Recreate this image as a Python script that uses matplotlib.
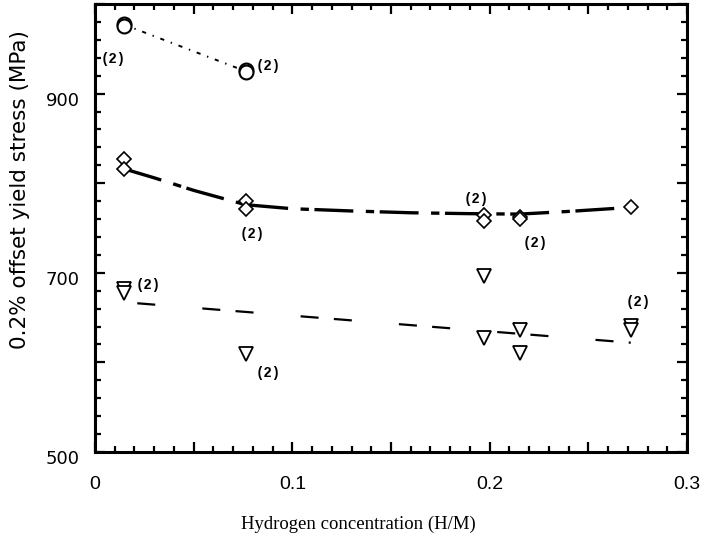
import matplotlib
matplotlib.use("Agg")
import matplotlib.pyplot as plt
from matplotlib.ticker import MultipleLocator, FuncFormatter
from matplotlib.transforms import ScaledTranslation

plt.rcParams['lines.scale_dashes'] = False

# ---- data ----
circle_x = [0.0147, 0.0147, 0.0763, 0.0763]
circle_y = [978, 976, 926, 924]
circle_fit_x = [0.0147, 0.0763]
circle_fit_y = [977, 925]

diamond_x = [0.0147, 0.0147, 0.0763, 0.0763, 0.197, 0.197, 0.2156, 0.2156, 0.2715]
diamond_y = [827, 816, 780, 771, 765, 758, 762, 760, 773]
diamond_fit_x = [0.0147, 0.03, 0.05, 0.0763, 0.10, 0.13, 0.16, 0.19, 0.215, 0.24, 0.2715]
diamond_fit_y = [816, 806, 792, 776, 771.5, 769, 767, 766, 765.5, 768.5, 773]

tri_x = [0.0147, 0.0147, 0.0763, 0.197, 0.197, 0.2156, 0.2156, 0.2715, 0.2715]
tri_y = [682, 677, 609, 696, 627, 636, 610, 641, 636]
tri_fit_x = [0.0214, 0.2715]
tri_fit_y = [666, 622]

note_text = "(2)"
note_x = [0.0092, 0.0880, 0.0798, 0.1932, 0.2232, 0.0269, 0.0880, 0.2755]
note_y = [939, 931, 743, 782, 733, 686, 588, 667]

x_ticklabels = {0.0: "0", 0.1: "0.1", 0.2: "0.2", 0.3: "0.3"}
y_ticklabels = {500: "500", 700: "700", 900: "900"}

# ---- figure ----
fig = plt.figure(figsize=(7.02, 5.39), dpi=100)
ax = fig.add_axes([95/702, 1-452/539, (687-95)/702, (452-4)/539])

ax.plot(circle_fit_x, circle_fit_y, color='black', lw=1.4,
        dashes=(3, 5, 1, 5), zorder=2)
ax.plot(diamond_fit_x, diamond_fit_y, color='black', lw=2.4,
        dashes=(28, 9, 6, 4), zorder=2)
ax.plot(tri_fit_x, tri_fit_y, color='black', lw=1.6,
        dashes=(13, 34, 13, 11), zorder=2)

ax.plot(circle_x, circle_y, ls='none', marker='o', ms=10, mfc='white',
        mec='black', mew=1.5, zorder=3)
ax.plot(diamond_x, diamond_y, ls='none', marker='D', ms=6.8, mfc='white',
        mec='black', mew=1.2, zorder=3)
ax.plot(tri_x, tri_y, ls='none', marker='v', ms=9.5, mfc='white',
        mec='black', mew=1.3, zorder=3)

for xv, yv in zip(note_x, note_y):
    ax.text(xv, yv, note_text, ha='center', va='center', fontsize=10,
            fontweight='bold', family='Liberation Mono', zorder=4)

ax.set_xlim(0, 0.3)
ax.set_ylim(500, 1000)

ax.xaxis.set_major_locator(MultipleLocator(0.05))
ax.xaxis.set_minor_locator(MultipleLocator(0.01))
ax.yaxis.set_major_locator(MultipleLocator(100))
ax.yaxis.set_minor_locator(MultipleLocator(20))

def xfmt(v, pos):
    for k, s in x_ticklabels.items():
        if abs(v - k) < 1e-6:
            return s
    return ""

def yfmt(v, pos):
    for k, s in y_ticklabels.items():
        if abs(v - k) < 1e-6:
            return s
    return ""

ax.xaxis.set_major_formatter(FuncFormatter(xfmt))
ax.yaxis.set_major_formatter(FuncFormatter(yfmt))

ax.tick_params(which='both', direction='in', top=True, right=True, width=1.6)
ax.tick_params(which='major', length=7)
ax.tick_params(which='minor', length=4)
ax.tick_params(axis='x', which='major', pad=17)
ax.tick_params(axis='y', which='major', pad=11)
for lab in ax.get_xticklabels():
    lab.set_family('Liberation Sans')
    lab.set_fontsize(14)
for lab in ax.get_yticklabels():
    lab.set_family('DejaVu Sans')
    lab.set_fontsize(13)
    lab.set_transform(lab.get_transform() +
                      ScaledTranslation(0, -5/100, fig.dpi_scale_trans))

for sp in ax.spines.values():
    sp.set_linewidth(2.2)

fig.text(358/702, 1-524/539, "Hydrogen concentration (H/M)", ha='center',
         va='center', fontsize=13.5, family='Liberation Serif')
fig.text(20/702, 1-190/539, "0.2% offset yield stress (MPa)", ha='center',
         va='center', rotation=90, fontsize=15.5, family='DejaVu Sans')

fig.savefig("out.png", dpi=100)
